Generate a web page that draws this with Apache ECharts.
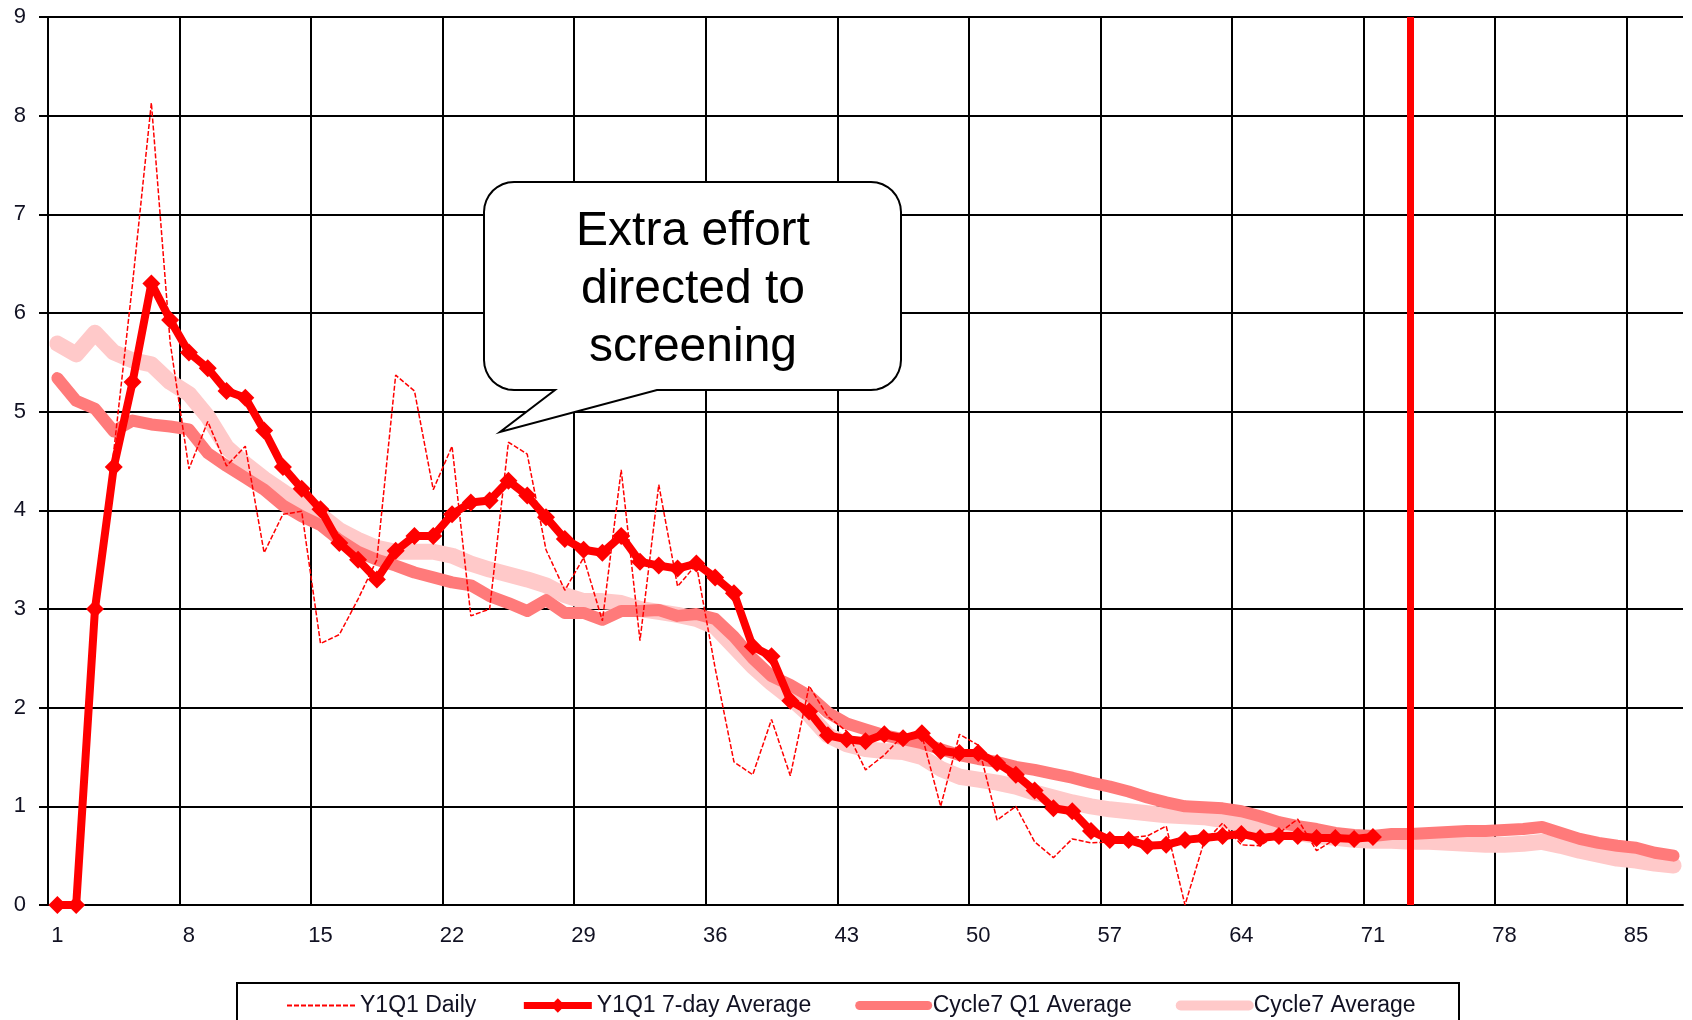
<!DOCTYPE html>
<html>
<head>
<meta charset="utf-8" />
<script src="https://cdn.jsdelivr.net/npm/echarts@6/dist/echarts.min.js"></script>
<style>
  html, body { margin: 0; padding: 0; background: #fff; }
  #chart { width: 1692px; height: 1020px; }
</style>
</head>
<body>
<div id="chart"></div>
<script>
// days 1..87
const days = [
  "1", "2", "3", "4", "5", "6", "7", "8", "9", "10",
  "11", "12", "13", "14", "15", "16", "17", "18", "19", "20",
  "21", "22", "23", "24", "25", "26", "27", "28", "29", "30",
  "31", "32", "33", "34", "35", "36", "37", "38", "39", "40",
  "41", "42", "43", "44", "45", "46", "47", "48", "49", "50",
  "51", "52", "53", "54", "55", "56", "57", "58", "59", "60",
  "61", "62", "63", "64", "65", "66", "67", "68", "69", "70",
  "71", "72", "73", "74", "75", "76", "77", "78", "79", "80",
  "81", "82", "83", "84", "85", "86", "87",
];

const y1q1Daily = [
  null, null, 3.0, 4.6, 6.3, 8.13, 5.7, 4.42, 4.9, 4.45,
  4.65, 3.57, 3.96, 3.99, 2.65, 2.74, 3.1, 3.5, 5.37, 5.21,
  4.21, 4.65, 2.93, 3.0, 4.69, 4.57, 3.6, 3.19, 3.52, 2.88,
  4.41, 2.68, 4.26, 3.23, 3.45, 2.4, 1.45, 1.32, 1.88, 1.31,
  2.22, 1.91, 1.76, 1.37, 1.52, 1.72, 1.72, 1.0, 1.73, 1.62,
  0.86, 1.0, 0.64, 0.48, 0.67, 0.63, 0.64, 0.68, 0.7, 0.8,
  0.0, 0.63, 0.83, 0.61, 0.6, 0.73, 0.87, 0.55, 0.67, 0.68, 0.69,
];

const y1q1Avg7 = [
  0, 0, 3.0, 4.44, 5.3, 6.3, 5.93, 5.6, 5.44, 5.21,
  5.14, 4.81, 4.44, 4.22, 4.01, 3.67, 3.5, 3.3, 3.59, 3.74,
  3.74, 3.96, 4.08, 4.1, 4.3, 4.15, 3.93, 3.71, 3.6, 3.57,
  3.74, 3.48, 3.44, 3.41, 3.46, 3.32, 3.16, 2.62, 2.52, 2.07,
  1.96, 1.72, 1.68, 1.66, 1.73, 1.69, 1.74, 1.56, 1.54, 1.54,
  1.44, 1.32, 1.16, 0.98, 0.95, 0.75, 0.66, 0.66, 0.6, 0.61,
  0.66, 0.68, 0.7, 0.72, 0.68, 0.7, 0.7, 0.68, 0.68, 0.67, 0.69,
];

const cycle7Q1Avg = [
  5.34, 5.11, 5.03, 4.8, 4.91, 4.87, 4.85, 4.82, 4.58, 4.45,
  4.33, 4.21, 4.05, 3.94, 3.85, 3.7, 3.58, 3.5, 3.44, 3.37,
  3.32, 3.27, 3.24, 3.13, 3.06, 2.98, 3.09, 2.96, 2.96, 2.89,
  2.98, 2.98, 2.99, 2.93, 2.95, 2.9, 2.72, 2.5, 2.32, 2.23,
  2.12, 1.95, 1.84, 1.78, 1.72, 1.68, 1.64, 1.58, 1.52, 1.48,
  1.45, 1.4, 1.37, 1.33, 1.29, 1.24, 1.2, 1.15, 1.09, 1.04,
  1.0, 0.99, 0.98, 0.95, 0.9, 0.84, 0.8, 0.77, 0.73, 0.71,
  0.7, 0.72, 0.72, 0.73, 0.74, 0.75, 0.75, 0.76, 0.77, 0.79,
  0.73, 0.67, 0.63, 0.6, 0.58, 0.53, 0.5,
];

const cycle7Avg = [
  5.69, 5.58, 5.8, 5.6, 5.52, 5.48, 5.3, 5.18, 4.95, 4.64,
  4.47, 4.32, 4.19, 4.06, 3.95, 3.8, 3.7, 3.62, 3.58, 3.58,
  3.58, 3.54, 3.46, 3.4, 3.35, 3.3, 3.24, 3.14, 3.08, 3.08,
  3.06, 3.0, 2.97, 2.94, 2.9, 2.82, 2.62, 2.42, 2.25, 2.1,
  1.93, 1.72, 1.63, 1.58, 1.56, 1.55, 1.5, 1.38, 1.3, 1.27,
  1.24, 1.2, 1.14, 1.09, 1.04, 1.0, 0.97, 0.95, 0.93, 0.91,
  0.9, 0.89, 0.86, 0.82, 0.79, 0.76, 0.73, 0.7, 0.68, 0.66,
  0.65, 0.65, 0.64, 0.64, 0.63, 0.62, 0.61, 0.61, 0.62, 0.64,
  0.6, 0.55, 0.51, 0.47, 0.45, 0.42, 0.4,
];

// day marked by the vertical red line
const cutoffDay = "73";

const seriesNames = ["Y1Q1 Daily", "Y1Q1 7-day Average", "Cycle7 Q1 Average", "Cycle7 Average"];
const calloutText = "Extra effort\ndirected to\nscreening";

const font = "Liberation Sans, Arial, sans-serif";
const textColor = "#111122";

// outline of the speech bubble: rounded box with a pointer under its left part
const bubblePoints = () => {
  const l = 484, r = 901, t = 182, b = 390, rad = 30;
  const pts = [];
  const arc = (cx, cy, a0, a1) => {
    for (let i = 0; i <= 8; i++) {
      const a = a0 + ((a1 - a0) * i) / 8;
      pts.push([cx + rad * Math.cos(a), cy + rad * Math.sin(a)]);
    }
  };
  arc(l + rad, t + rad, Math.PI, Math.PI * 1.5);
  arc(r - rad, t + rad, Math.PI * 1.5, Math.PI * 2);
  arc(r - rad, b - rad, 0, Math.PI * 0.5);
  pts.push([657, b], [500, 432], [555, b]);
  arc(l + rad, b - rad, Math.PI * 0.5, Math.PI);
  return pts;
};

const chart = echarts.init(document.getElementById("chart"));

const option = {
  animation: false,
  backgroundColor: "#fff",
  grid: {
    left: 48,
    right: 9,
    top: 17,
    bottom: 115,
  },
  legend: {
    // lines only, except the 7-day average which keeps its diamond
    data: [
      { name: seriesNames[0], itemStyle: { opacity: 0 } },
      { name: seriesNames[1], lineStyle: { width: 7 } },
      { name: seriesNames[2], itemStyle: { opacity: 0 }, lineStyle: { width: 9, cap: "round" } },
      { name: seriesNames[3], itemStyle: { opacity: 0 }, lineStyle: { width: 10, cap: "round" } },
    ],
    left: 281,
    top: 989,
    itemWidth: 68,
    itemHeight: 18,
    itemGap: 44,
    selectedMode: false,
    textStyle: {
      fontFamily: font,
      fontSize: 23,
      color: textColor,
    },
  },
  xAxis: {
    type: "category",
    data: days,
    boundaryGap: true,
    axisLine: { lineStyle: { color: "#000", width: 2 } },
    axisTick: { interval: 6, length: 8, lineStyle: { color: "#000", width: 2 } },
    axisLabel: {
      interval: 6,
      margin: 20,
      fontFamily: font,
      fontSize: 22,
      color: textColor,
    },
    splitLine: {
      show: true,
      interval: 6,
      showMaxLine: false,
      lineStyle: { color: "#000", width: 2 },
    },
  },
  yAxis: {
    type: "value",
    min: 0,
    max: 9,
    interval: 1,
    axisLine: { show: true, lineStyle: { color: "#000", width: 2 } },
    axisTick: { show: true, length: 9, lineStyle: { color: "#000", width: 2 } },
    axisLabel: {
      margin: 22,
      fontFamily: font,
      fontSize: 22,
      color: textColor,
    },
    splitLine: { lineStyle: { color: "#000", width: 2 } },
  },
  series: [
    {
      name: "Y1Q1 Daily",
      type: "line",
      data: y1q1Daily,
      z: 4,
      symbol: "none",
      itemStyle: { color: "#ff0000" },
      lineStyle: { color: "#ff0000", width: 1.5, type: [5, 2] },
    },
    {
      name: "Y1Q1 7-day Average",
      type: "line",
      data: y1q1Avg7,
      z: 5,
      symbol: "diamond",
      symbolSize: 18,
      showAllSymbol: true,
      itemStyle: { color: "#ff0000" },
      lineStyle: { color: "#ff0000", width: 8, join: "round" },
      markLine: {
        silent: true,
        symbol: "none",
        label: { show: false },
        lineStyle: { color: "#ff0000", width: 7, type: "solid" },
        data: [{ xAxis: cutoffDay }],
      },
    },
    {
      name: "Cycle7 Q1 Average",
      type: "line",
      data: cycle7Q1Avg,
      z: 2,
      symbol: "none",
      itemStyle: { color: "#ff7a7a" },
      lineStyle: { color: "#ff7a7a", width: 12, cap: "round", join: "round" },
    },
    {
      name: "Cycle7 Average",
      type: "line",
      data: cycle7Avg,
      z: 1,
      symbol: "none",
      itemStyle: { color: "#ffc9c9" },
      lineStyle: { color: "#ffc9c9", width: 16, cap: "round", join: "round" },
    },
  ],
  graphic: [
    {
      type: "polygon",
      z: 100,
      shape: { points: bubblePoints() },
      style: { fill: "#fff", stroke: "#000", lineWidth: 2 },
    },
    {
      type: "text",
      z: 101,
      x: 693,
      y: 290,
      style: {
        text: calloutText,
        fontFamily: font,
        fontSize: 48,
        lineHeight: 58,
        fill: "#000",
        align: "center",
        verticalAlign: "middle",
      },
    },
    {
      // legend frame, runs off the bottom of the page
      type: "rect",
      z: 100,
      shape: { x: 237, y: 983, width: 1222, height: 60 },
      style: { fill: "none", stroke: "#000", lineWidth: 2 },
    },
  ],
};

chart.setOption(option);

window.addEventListener("resize", () => {
  chart.resize();
});
</script>
</body>
</html>
